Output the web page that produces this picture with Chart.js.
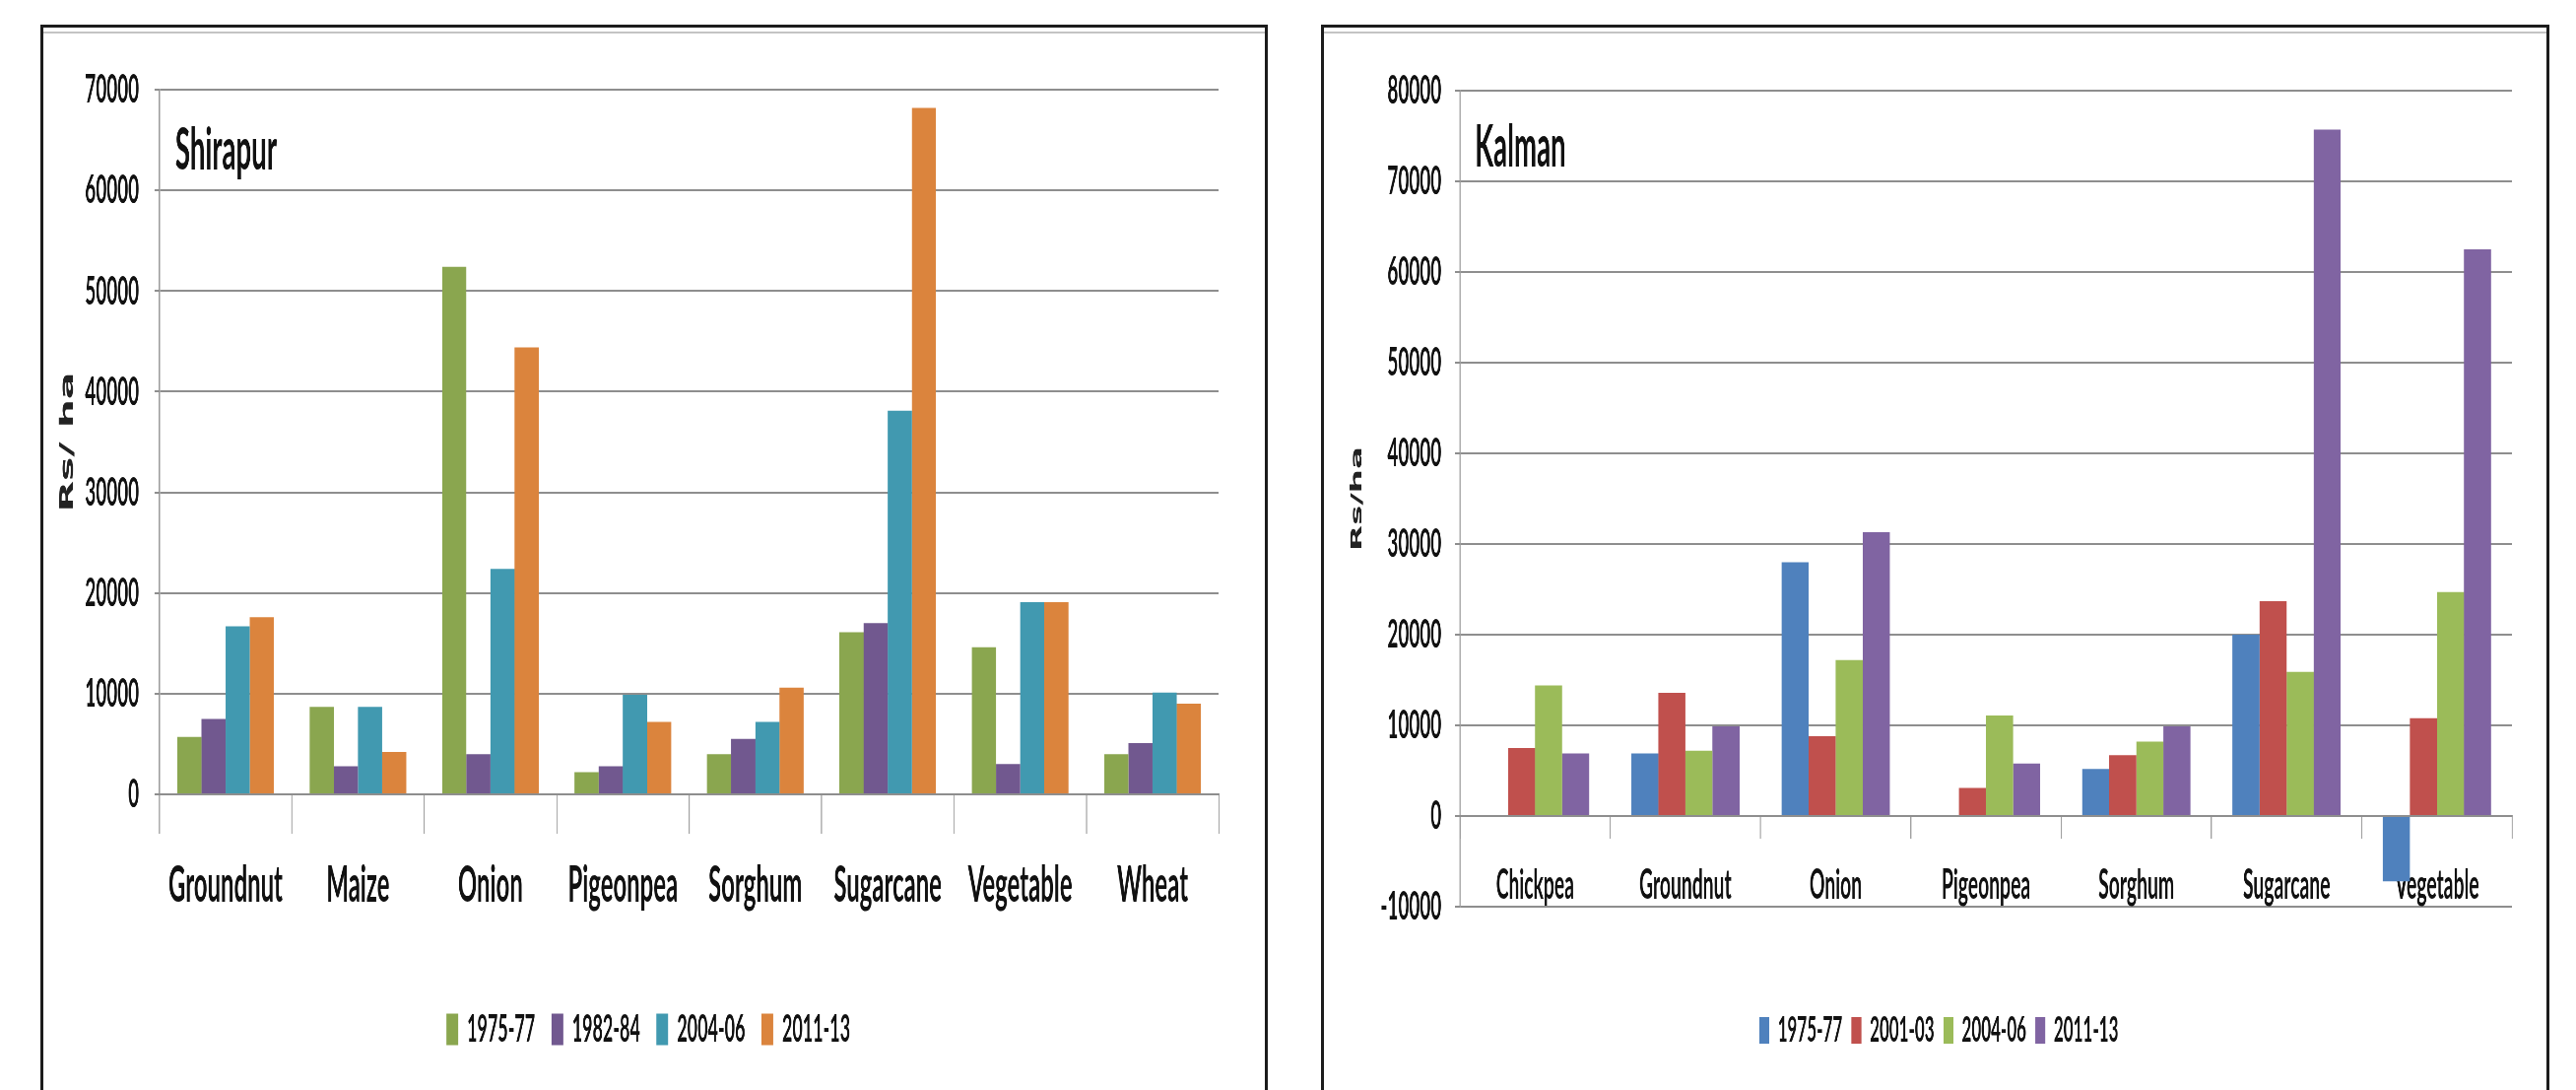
<!DOCTYPE html>
<html lang="en">
<head>
<meta charset="UTF-8">
<title>Net returns per hectare by crop</title>
<script src="https://cdn.jsdelivr.net/npm/chart.js"></script>
<style>
  html, body { margin: 0; padding: 0; background: #fff; overflow: hidden; }
  body { width: 2615px; height: 1106px; position: relative; }
  .panel {
    position: absolute; top: 25px; height: 1090px; box-sizing: border-box;
    border: 3px solid #1c1c1c; border-bottom: none;
    box-shadow: inset 0 4px 0 #fff, inset 0 6px 0 #c4c4c4;
  }
  /* charts are drawn wide and squeezed, which gives the narrow lettering */
  .squeeze { position: absolute; left: 0; top: 0; height: 1078px; transform: scaleX(0.46); transform-origin: 0 0; }
</style>
</head>
<body>
<div class="panel" style="left:41px;width:1246px">
  <div class="squeeze" style="width:2696px"><canvas id="shirapur"></canvas></div>
</div>
<div class="panel" style="left:1341px;width:1247px">
  <div class="squeeze" style="width:2698px"><canvas id="kalman"></canvas></div>
</div>
<script>
// Shirapur, Rs/ha
const shirapurCrops = ['Groundnut', 'Maize', 'Onion', 'Pigeonpea', 'Sorghum', 'Sugarcane', 'Vegetable', 'Wheat'];
const shirapurPeriods = ['1975-77', '1982-84', '2004-06', '2011-13'];
const shirapur1975 = [5700, 8700, 52400, 2200, 4000, 16100, 14600, 4000];
const shirapur1982 = [7500, 2800, 4000, 2800, 5500, 17000, 3000, 5100];
const shirapur2004 = [16700, 8700, 22400, 9900, 7200, 38100, 19100, 10100];
const shirapur2011 = [17600, 4200, 44400, 7200, 10600, 68200, 19100, 9000];

// Kalman, Rs/ha (no 1975-77 figure for chickpea and pigeonpea)
const kalmanCrops = ['Chickpea', 'Groundnut', 'Onion', 'Pigeonpea', 'Sorghum', 'Sugarcane', 'Vegetable'];
const kalmanPeriods = ['1975-77', '2001-03', '2004-06', '2011-13'];
const kalman1975 = [null, 6900, 28000, null, 5200, 20000, -7200];
const kalman2001 = [7500, 13600, 8800, 3100, 6700, 23700, 10800];
const kalman2004 = [14400, 7200, 17200, 11100, 8200, 15900, 24700];
const kalman2011 = [6900, 9900, 31300, 5800, 9900, 75700, 62500];

const shirapurColors = ['#8aa64f', '#71588f', '#4199b0', '#db843d'];
const kalmanColors = ['#4f81bd', '#c0504d', '#9bbb59', '#8064a2'];

const gridGrey = '#8e8e8e';
const ink = '#111';

// village name written inside the plot, top left
const areaTitle = {
  id: 'areaTitle',
  afterDatasetsDraw(chart, args, opts) {
    const { ctx, chartArea } = chart;
    ctx.save();
    ctx.font = 'bold ' + opts.size + 'px Lato';
    ctx.fillStyle = ink;
    ctx.textBaseline = 'alphabetic';
    ctx.fillText(opts.text, chartArea.left + opts.dx, chartArea.top + opts.dy);
    ctx.restore();
  }
};

function series(periods, colors, rows) {
  return rows.map((data, i) => ({
    label: periods[i],
    data: data,
    backgroundColor: colors[i],
    borderWidth: 0
  }));
}

new Chart(document.getElementById('shirapur'), {
  type: 'bar',
  data: {
    labels: shirapurCrops,
    datasets: series(shirapurPeriods, shirapurColors, [shirapur1975, shirapur1982, shirapur2004, shirapur2011])
  },
  options: {
    responsive: true,
    maintainAspectRatio: false,
    animation: false,
    datasets: { bar: { categoryPercentage: 0.73, barPercentage: 1 } },
    layout: { padding: { left: 76, right: 102, top: 63, bottom: 32 } },
    scales: {
      x: {
        grid: { drawOnChartArea: false, tickLength: 40, color: '#a0a0a0', lineWidth: 2.5 },
        border: { color: gridGrey, width: 2 },
        ticks: { padding: 21, color: ink, font: { family: 'Lato', size: 52, weight: 'bold' } },
        afterFit: s => { s.height = 183; }
      },
      y: {
        min: 0,
        max: 70000,
        ticks: { stepSize: 10000, padding: 34, color: ink, font: { family: 'Lato', size: 41, weight: 'bold' }, callback: v => String(v) },
        grid: { color: gridGrey, lineWidth: 2, tickLength: 11 },
        border: { color: gridGrey, width: 2.5 },
        title: {
          display: true, text: 'Rs/ ha', color: '#222',
          font: { family: 'DejaVu Sans', size: 41, weight: 'bold' },
          padding: { top: -46.6, bottom: 0 }
        },
        afterFit: s => { s.width = 180; }
      }
    },
    plugins: {
      legend: {
        position: 'bottom',
        labels: { boxWidth: 26, boxHeight: 32, padding: 36, color: ink, font: { family: 'Lato', size: 39, weight: 'bold' } }
      },
      tooltip: { enabled: false },
      areaTitle: { text: 'Shirapur', size: 60, dx: 35, dy: 81 }
    }
  },
  plugins: [areaTitle]
});

new Chart(document.getElementById('kalman'), {
  type: 'bar',
  data: {
    labels: kalmanCrops,
    datasets: series(kalmanPeriods, kalmanColors, [kalman1975, kalman2001, kalman2004, kalman2011])
  },
  options: {
    responsive: true,
    maintainAspectRatio: false,
    animation: false,
    datasets: { bar: { categoryPercentage: 0.72, barPercentage: 1 } },
    layout: { padding: { left: 92, right: 76, top: 64, bottom: 32 } },
    scales: {
      x: {
        position: { y: 0 },
        grid: { drawOnChartArea: false, tickLength: 22, color: '#a0a0a0', lineWidth: 2.5 },
        border: { color: gridGrey, width: 2 },
        ticks: { padding: 23, color: ink, font: { family: 'Lato', size: 42, weight: 'bold' } }
      },
      // keeps room between the -10000 line and the legend
      gap: {
        type: 'category',
        position: 'bottom',
        grid: { display: false },
        border: { display: false },
        ticks: { display: false },
        afterFit: s => { s.height = 87; }
      },
      y: {
        min: -10000,
        max: 80000,
        ticks: { stepSize: 10000, padding: 30, color: ink, font: { family: 'Lato', size: 41, weight: 'bold' }, callback: v => String(v) },
        grid: { color: gridGrey, lineWidth: 2, tickLength: 11 },
        border: { color: gridGrey, width: 2.5 },
        title: {
          display: true, text: 'Rs/ha', color: '#222',
          font: { family: 'DejaVu Sans', size: 34, weight: 'bold' },
          padding: { top: -38.4, bottom: 0 }
        },
        afterFit: s => { s.width = 208; }
      }
    },
    plugins: {
      legend: {
        position: 'bottom',
        labels: { boxWidth: 22, boxHeight: 27, padding: 20, color: ink, font: { family: 'Lato', size: 37, weight: 'bold' } }
      },
      tooltip: { enabled: false },
      areaTitle: { text: 'Kalman', size: 60, dx: 33, dy: 77 }
    }
  },
  plugins: [areaTitle]
});
</script>
</body>
</html>
